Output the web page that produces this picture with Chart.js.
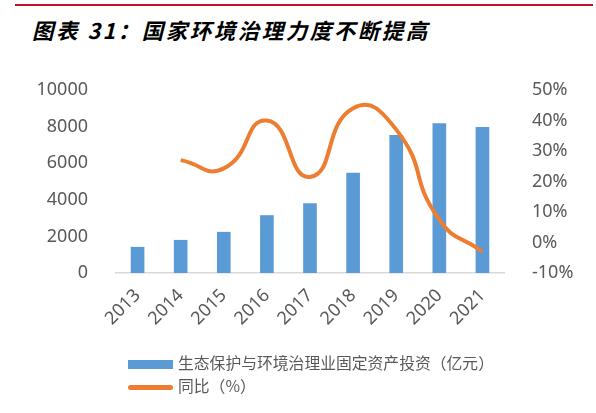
<!DOCTYPE html>
<html>
<head>
<meta charset="utf-8">
<script src="https://cdn.jsdelivr.net/npm/chart.js@4/dist/chart.umd.min.js"></script>
<style>
  body { margin: 0; background: #fff; }
  #wrap { position: relative; width: 596px; height: 413px; overflow: hidden; }
  #redline { position: absolute; left: 15px; top: 4px; width: 578px; height: 2px; background: #c0102e; }
  #title { position: absolute; left: 32px; top: 17px; font-family: "Noto Sans CJK SC", sans-serif; font-size: 21.5px; letter-spacing: 2.5px; font-weight: bold; font-style: italic; color: #000; white-space: nowrap; line-height: 26px; }
  #chartBox { position: absolute; left: 0; top: 0; width: 596px; height: 413px; }
  .legend { position: absolute; left: 128px; font-family: "Noto Sans CJK SC", sans-serif; font-size: 15.8px; color: #595959; white-space: nowrap; }
  .legend .sw { display: inline-block; width: 45px; vertical-align: middle; margin-right: 5px; }
</style>
</head>
<body>
<div id="wrap">
  <div id="redline"></div>
  <div id="title">图表 31：国家环境治理力度不断提高</div>
  <div id="chartBox"><canvas id="myChart" width="596" height="413"></canvas></div>
  <div class="legend" style="top:351px;"><span class="sw" style="height:9px;background:#5b9bd5;"></span>生态保护与环境治理业固定资产投资（亿元）</div>
  <div class="legend" style="top:374px;"><span class="sw" style="height:5px;border-radius:3px;background:#ed7d31;"></span>同比（%）</div>
</div>
<script>
const years = ['2013', '2014', '2015', '2016', '2017', '2018', '2019', '2020', '2021']
const investment = [1410, 1790, 2230, 3140, 3800, 5460, 7520, 8170, 7960]
const growth = [null, 27.0, 24.3, 40.0, 21.5, 44.0, 37.0, 7.5, -3.0]
const leftTicks = [0, 2000, 4000, 6000, 8000, 10000]
const rightTicks = [-10, 0, 10, 20, 30, 40, 50]

const tickFont = { family: 'Noto Sans', size: 18 }
const ctx = document.getElementById('myChart')

const chart = new Chart(ctx, {
  type: 'bar',
  data: {
    labels: years,
    datasets: [
      {
        type: 'line',
        label: '同比（%）',
        data: growth,
        yAxisID: 'y1',
        borderColor: '#ed7d31',
        borderWidth: 4,
        pointRadius: 0,
        tension: 0.55,
        fill: false,
        order: 0
      },
      {
        label: '生态保护与环境治理业固定资产投资（亿元）',
        data: investment,
        yAxisID: 'y',
        backgroundColor: '#5b9bd5',
        barThickness: 13,
        order: 1
      }
    ]
  },
  options: {
    responsive: false,
    animation: false,
    layout: { padding: { top: 90, left: 0, right: 0, bottom: 0 } },
    plugins: { legend: { display: false }, tooltip: { enabled: false } },
    scales: {
      x: {
        grid: { display: false },
        border: { display: true, color: '#d9d9d9', width: 1.5 },
        ticks: { color: '#595959', font: tickFont, minRotation: 45, maxRotation: 45, padding: 4 },
        afterFit: (s) => { s.height = 140 }
      },
      y: {
        position: 'left',
        min: 0,
        max: 10000,
        grid: { display: false },
        border: { display: false },
        afterBuildTicks: (s) => { s.ticks = leftTicks.map(v => ({ value: v })) },
        ticks: { color: '#595959', font: tickFont, padding: 20, callback: (v) => String(v) },
        afterFit: (s) => { s.width = 116 }
      },
      y1: {
        position: 'right',
        min: -10,
        max: 50,
        grid: { display: false },
        border: { display: false },
        afterBuildTicks: (s) => { s.ticks = rightTicks.map(v => ({ value: v })) },
        ticks: { color: '#595959', font: tickFont, padding: 20, callback: (v) => v + '%' },
        afterFit: (s) => { s.width = 92 }
      }
    }
  }
})
</script>
</body>
</html>
